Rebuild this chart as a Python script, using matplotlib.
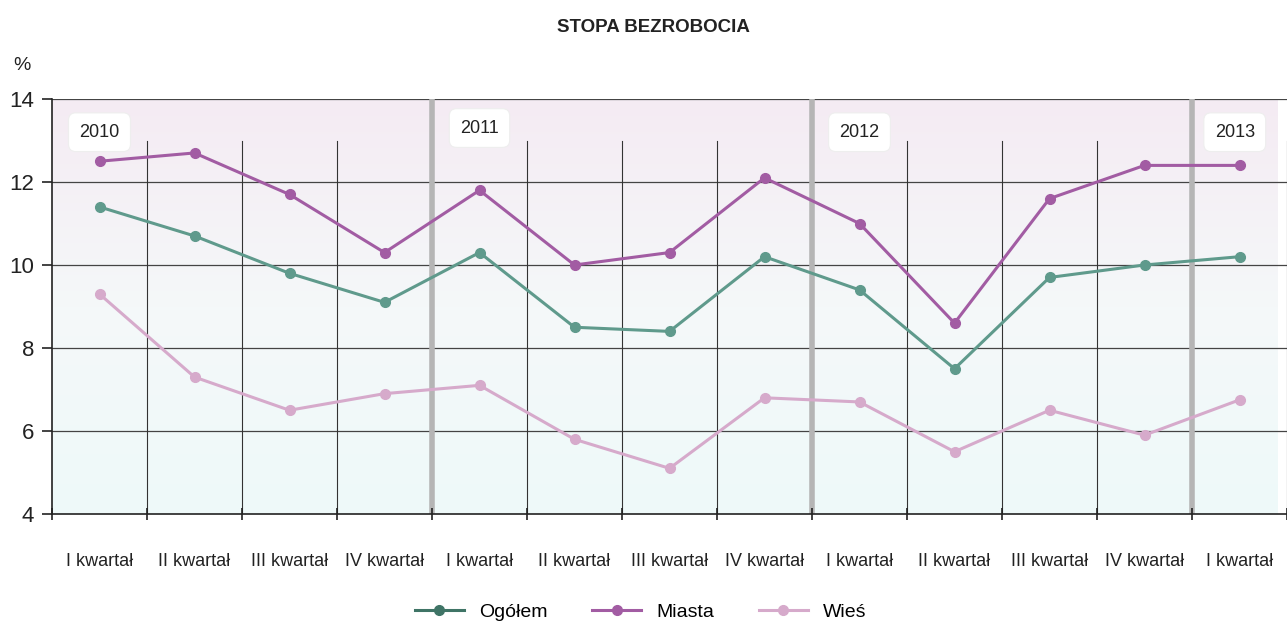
import matplotlib
matplotlib.use("Agg")
import matplotlib.pyplot as plt
import numpy as np
from matplotlib.colors import LinearSegmentedColormap
from matplotlib.lines import Line2D

plt.rcParams['font.family'] = ['Liberation Sans Narrow', 'Liberation Sans', 'DejaVu Sans']

# data
quarters = ["I kwartał", "II kwartał", "III kwartał", "IV kwartał"] * 3 + ["I kwartał"]
years = ["2010", "2011", "2012", "2013"]
ogolem = [11.4, 10.7, 9.8, 9.1, 10.3, 8.5, 8.4, 10.2, 9.4, 7.5, 9.7, 10.0, 10.2]
miasta = [12.5, 12.7, 11.7, 10.3, 11.8, 10.0, 10.3, 12.1, 11.0, 8.6, 11.6, 12.4, 12.4]
wies = [9.3, 7.3, 6.5, 6.9, 7.1, 5.8, 5.1, 6.8, 6.7, 5.5, 6.5, 5.9, 6.75]

c_ogolem = "#5f9a8c"
c_miasta = "#a25ca3"
c_wies = "#d6aacb"

fig = plt.figure(figsize=(12.87, 6.23), dpi=100)
ax = fig.add_axes([52 / 1287, 1 - 514 / 623, 1 - 52 / 1287, (514 - 99) / 623])

x = np.arange(len(ogolem)) + 0.5
xmax = (1287 - 52) / 95.7
ax.set_xlim(0, xmax)
ax.set_ylim(4, 14)

# gradient background
cmap = LinearSegmentedColormap.from_list("bg", ["#eefafa", "#f5f8f9", "#f4ebf3"])
grad = np.linspace(0, 1, 256).reshape(-1, 1)
ax.imshow(grad, cmap=cmap, aspect="auto", extent=[0, xmax, 4, 14],
          origin="lower", zorder=0)

# grid
for yv in [6, 8, 10, 12, 14]:
    ax.axhline(yv, color="#444444", lw=0.9, zorder=1)
for i in range(1, 14):
    if i % 4 == 0:
        ax.axvline(i, color="#b5b5b5", lw=4, zorder=1)
    else:
        ax.plot([i, i], [4, 13.0], color="#333333", lw=0.8, zorder=1)

ax.plot(x, wies, color=c_wies, lw=2.2, marker="o", ms=7, zorder=3)
ax.plot(x, ogolem, color=c_ogolem, lw=2.2, marker="o", ms=7, zorder=4)
ax.plot(x, miasta, color=c_miasta, lw=2.2, marker="o", ms=7, zorder=5)

# year boxes
for i, yr in enumerate(years):
    xp = [0.5, 4.5, 8.5, 12.45][i]
    yp = 13.2 if i != 1 else 13.3
    ax.text(xp, yp, yr, ha="center", va="center", fontsize=13, color="#222222",
            zorder=6, bbox=dict(boxstyle="round,pad=0.6,rounding_size=0.4",
                                fc="white", ec="#eeeeee", lw=0.8))

# axes style
for s in ["top", "right"]:
    ax.spines[s].set_visible(False)
ax.spines["left"].set_color("#222222")
ax.spines["bottom"].set_color("#222222")
ax.spines["left"].set_linewidth(1.2)
ax.spines["bottom"].set_linewidth(1.2)
ax.set_yticks([4, 6, 8, 10, 12, 14])
ax.tick_params(axis="y", labelsize=16, length=7, width=1.2, pad=6, colors="#222222")
ax.set_xticks(np.arange(0, 14))
ax.set_xticklabels([])
ax.tick_params(axis="x", which="major", length=8, width=1.2, direction="inout", colors="#222222")
ax.set_xticks(x, minor=True)
ax.set_xticklabels(quarters, minor=True)
ax.tick_params(axis="x", which="minor", length=0, labelsize=13, pad=28, labelcolor="#222222")

fig.text(653 / 1287, 1 - 27 / 623, "STOPA BEZROBOCIA", ha="center", va="center",
         fontsize=13.5, fontweight="bold", color="#222222")
fig.text(22 / 1287, 1 - 66 / 623, "%", ha="center", va="center", fontsize=14, color="#222222")

handles = [Line2D([], [], color="#3f7466", lw=2.2, marker="o", ms=7),
           Line2D([], [], color=c_miasta, lw=2.2, marker="o", ms=7),
           Line2D([], [], color=c_wies, lw=2.2, marker="o", ms=7)]
fig.legend(handles, ["Ogółem", "Miasta", "Wieś"], loc="center", bbox_to_anchor=(0.498, 1 - 612 / 623),
           ncol=3, frameon=False, fontsize=14, columnspacing=2.3, handlelength=2.5)

fig.savefig("out.png", dpi=100)
